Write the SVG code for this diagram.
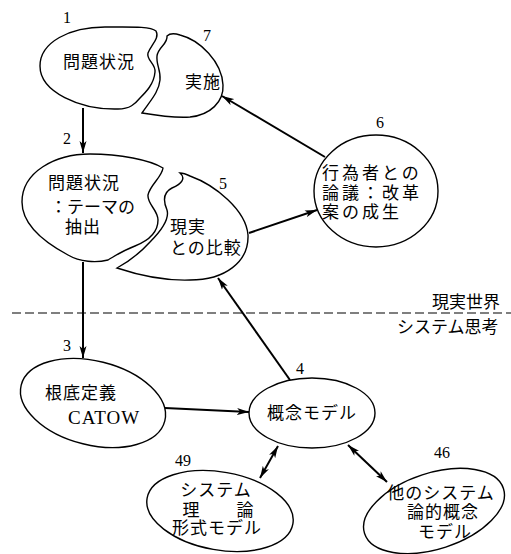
<svg xmlns="http://www.w3.org/2000/svg" width="511" height="554" viewBox="0 0 511 554">
<style>
.n{fill:#fff;stroke:#000;stroke-width:1.4}
.t{font-family:"Noto Sans CJK JP","Noto Sans CJK SC",sans-serif;font-size:17px;fill:#000}
.num{font-family:"Liberation Serif",serif;font-size:16px;fill:#000}
.c{stroke:#000;stroke-width:2;fill:none}
</style>
<defs>
<marker id="ah" viewBox="0 0 12 8" refX="12" refY="4" markerWidth="12" markerHeight="8" markerUnits="userSpaceOnUse" orient="auto-start-reverse">
<path d="M0,0.5 L12,4 L0,7.5 L3,4 Z" fill="#000"/>
</marker>
</defs>
<rect width="511" height="554" fill="#fff"/>
<line x1="12" y1="313" x2="511" y2="313" stroke="#000" stroke-width="1.2" stroke-dasharray="9,4"/>
<text class="t" x="432" y="308">現実世界</text>
<text class="t" x="397" y="333">システム思考</text>
<g id="connectors">
<line class="c" x1="83" y1="108" x2="83" y2="153" marker-end="url(#ah)"/>
<line class="c" x1="83" y1="262" x2="83" y2="358" marker-end="url(#ah)"/>
<line class="c" x1="165" y1="408" x2="249" y2="412" stroke-width="3" marker-end="url(#ah)"/>
<line class="c" x1="290" y1="380" x2="218" y2="278" marker-end="url(#ah)"/>
<line class="c" x1="249" y1="233" x2="317" y2="210" marker-end="url(#ah)"/>
<line class="c" x1="325" y1="157" x2="222" y2="96" marker-end="url(#ah)"/>
<line class="c" x1="278" y1="446" x2="260" y2="478" marker-start="url(#ah)" marker-end="url(#ah)"/>
<line class="c" x1="348" y1="445" x2="387" y2="482" marker-start="url(#ah)" marker-end="url(#ah)"/>
</g>
<g id="node1">
<path class="n" d="M156,31 C160,38 151,45 148,53 C146,60 156,64 155,72 C154,84 146,92 140,98 C135,104 130,109 118,109 C80,110 40,92 40,66 C40,42 70,27 105,27 C130,27 150,26 156,31 Z"/>
<text class="num" x="63" y="23">1</text>
<text class="t" x="99" y="68" text-anchor="middle" letter-spacing="1">問題状況</text>
</g>
<g id="node7">
<path class="n" d="M167,36 C168,44 158,47 157,56 C156,65 161,70 160,80 C159,92 150,101 142,113 C160,116 175,118 190,117 C210,115 224,102 223,85 C222,62 200,40 180,35 C174,33 170,33 167,36 Z"/>
<text class="num" x="203" y="41">7</text>
<text class="t" x="203" y="88" text-anchor="middle" letter-spacing="1">実施</text>
</g>
<g id="node2">
<path class="n" d="M163,168 C162,177 150,185 148,195 C147,204 158,210 158,220 C158,232 150,240 135,246 C122,251 115,256 108,260 C96,263 80,262 68,255 C40,240 22,222 22,202 C22,172 55,154 90,154 C120,154 150,160 163,168 Z"/>
<text class="num" x="63" y="144">2</text>
<text class="t" x="48" y="189" letter-spacing="1">問題状況</text>
<text class="t" x="50" y="213" letter-spacing="0">：テーマの</text>
<text class="t" x="65" y="233" letter-spacing="1">抽出</text>
</g>
<g id="node5">
<path class="n" d="M180,173 C186,178 182,184 172,188 C162,193 164,203 167,210 C170,220 160,232 150,242 C140,253 128,262 117,268 C135,274 160,281 190,280 C225,280 249,262 248,235 C246,210 215,185 190,176 C186,174 183,173 180,173 Z"/>
<text class="num" x="219" y="189">5</text>
<text class="t" x="170" y="233" letter-spacing="1">現実</text>
<text class="t" x="170" y="254" letter-spacing="1">との比較</text>
</g>
<g id="node6">
<ellipse class="n" cx="376" cy="191" rx="62" ry="56"/>
<text class="num" x="376" y="128">6</text>
<text class="t" x="322" y="179" letter-spacing="3">行為者との</text>
<text class="t" x="322" y="199" letter-spacing="3">論議：改革</text>
<text class="t" x="322" y="218" letter-spacing="3">案の成生</text>
</g>
<g id="node3">
<ellipse class="n" cx="93" cy="403" rx="74" ry="42" transform="rotate(14 93 403)"/>
<text class="num" x="63" y="351">3</text>
<text class="t" x="45" y="399" letter-spacing="1">根底定義</text>
<text x="68" y="424" font-family="Liberation Serif,serif" font-size="19" letter-spacing="1">CATOW</text>
</g>
<g id="node4">
<ellipse class="n" cx="312" cy="413" rx="63" ry="35"/>
<text class="num" x="296" y="374">4</text>
<text class="t" x="312" y="419" text-anchor="middle" letter-spacing="1">概念モデル</text>
</g>
<g id="node49">
<ellipse class="n" cx="220" cy="511" rx="74" ry="39" transform="rotate(10 220 511)"/>
<text class="num" x="183" y="466" text-anchor="middle">49</text>
<text class="t" x="216" y="496" text-anchor="middle" letter-spacing="1">システム</text>
<text class="t" x="191" y="516" text-anchor="middle">理</text>
<text class="t" x="245" y="516" text-anchor="middle">論</text>
<text class="t" x="217" y="534" text-anchor="middle" letter-spacing="1">形式モデル</text>
</g>
<g id="node46">
<ellipse class="n" cx="434" cy="511" rx="73" ry="38" transform="rotate(-18 434 511)"/>
<text class="num" x="442" y="458" text-anchor="middle">46</text>
<text class="t" x="441" y="499" text-anchor="middle" letter-spacing="1">他のシステム</text>
<text class="t" x="443" y="518" text-anchor="middle" letter-spacing="1">論的概念</text>
<text class="t" x="445" y="538" text-anchor="middle" letter-spacing="1">モデル</text>
</g>
</svg>
